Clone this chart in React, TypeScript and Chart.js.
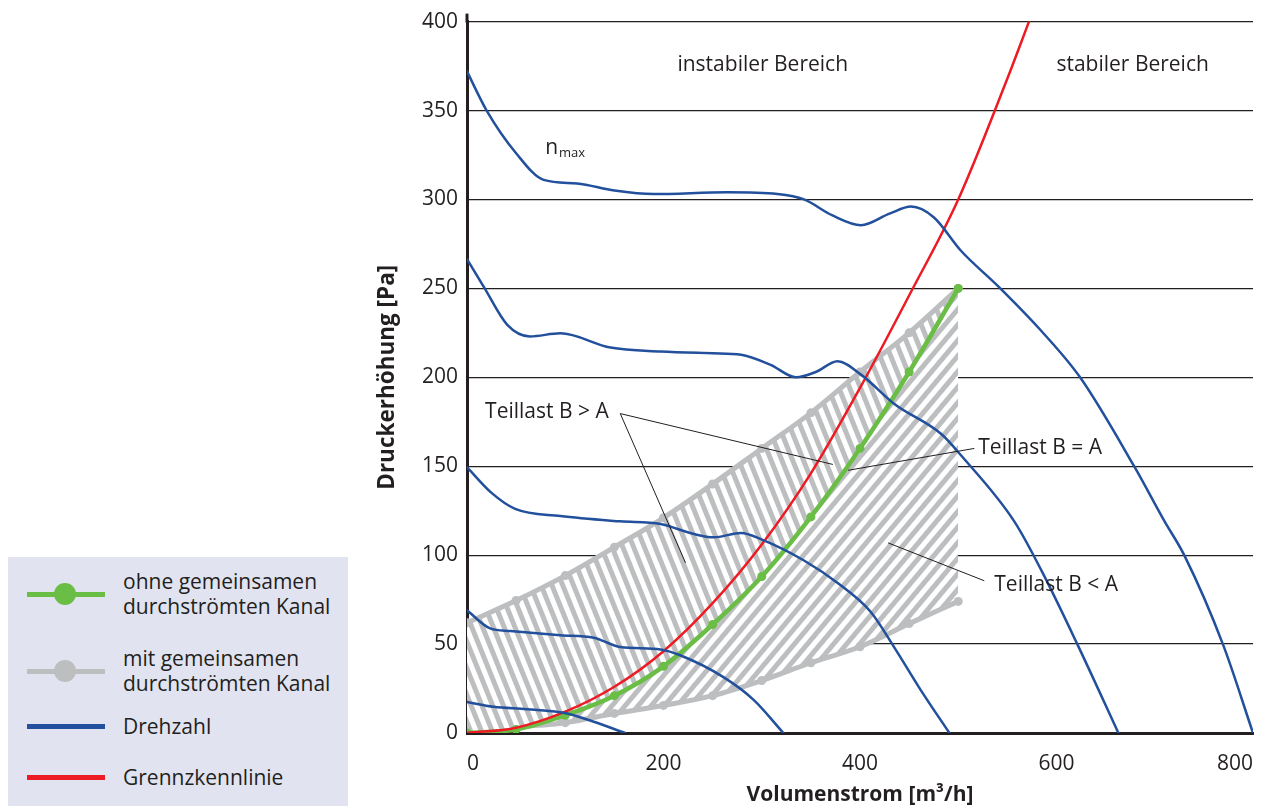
import React, { useEffect, useRef } from "react";
import { Chart, registerables } from "chart.js";

Chart.register(...registerables);

// ---------- data ----------
const sharedX = [0, 50, 100, 150, 200, 250, 300, 350, 400, 450, 500];
const greenY = [0, 2, 10, 21, 37.5, 61, 88, 121.5, 160, 203, 250];
const grayUpperY = [62, 74.5, 88.5, 104.5, 121, 140, 160, 180, 203, 225, 250];
const grayLowerY = [0.7, 3.4, 5.8, 11, 15.5, 21, 29.5, 39.5, 48.5, 61.5, 74];

const redX = [0, 50, 100, 150, 200, 250, 300, 350, 400, 450, 500, 550, 572];
const redY = [0, 3, 12, 26, 46, 73, 106, 146, 194, 246, 300, 368, 400];

const blue1X = [0, 20, 50, 78, 112, 150, 190, 265, 316, 343, 372, 401, 430, 452, 475, 503, 541, 583, 624, 679, 710, 730, 770, 800];
const blue1Y = [372, 350, 326, 311, 309, 305, 303, 304, 303, 300, 291, 285.5, 292, 296, 290, 271, 251, 227, 200, 150, 119, 100, 49, 0];
const blue2X = [0, 18, 41, 64, 95, 146, 197, 250, 279, 309, 335, 355, 377, 401, 435, 483, 503, 557, 585, 622, 663];
const blue2Y = [266.5, 250, 229.5, 223, 224.7, 216.7, 214.5, 213.5, 212.7, 207, 200, 203, 209, 201.5, 185, 168, 156, 119, 91, 49, 0];
const blue3X = [0, 25, 49, 95, 156, 197, 230, 251, 279, 299, 343, 378, 411, 435, 462, 491];
const blue3Y = [149.5, 135, 126, 122, 119, 117.5, 112, 110, 112.5, 109, 97, 84, 68, 48, 24, 0];
const blue4X = [0, 23.5, 44, 95, 129, 156, 197, 217, 261, 292, 322];
const blue4Y = [69, 58.8, 57.3, 55, 53.6, 48.3, 47, 43.7, 31.4, 18.5, 0];
const blue5X = [0, 27, 61, 102, 129, 161];
const blue5Y = [17.4, 14.7, 13.4, 11, 6.3, 0];

const xTicksStep = 200;
const yTicksStep = 50;

const labelTexts = [
  { text: "instabiler Bereich", x: 301, y: 375.4, align: "center" },
  { text: "stabiler Bereich", x: 677.5, y: 375.4, align: "center" },
  { text: "Teillast B > A", x: 18.4, y: 180.7, align: "left" },
  { text: "Teillast B = A", x: 520.4, y: 160, align: "left" },
  { text: "Teillast B < A", x: 536.7, y: 83.4, align: "left" },
];
const leaderLines = [
  [156, 179.6, 372.4, 151],
  [156, 179.6, 222.4, 95.7],
  [516.3, 160, 387.8, 147.7],
  [526.5, 85.6, 428.6, 106.9],
];
const nMaxPos = { x: 79.6, y: 329 };

// ---------- styles ----------
const GREEN = "#6abd45";
const GRAY = "#bcbec0";
const BLUE = "#22509c";
const RED = "#ed1c24";
const INK = "#231f20";
const FONT = "'Open Sans', sans-serif";

const pts = (xs: number[], ys: number[]) => xs.map((x, i) => ({ x, y: ys[i] }));

function stripePattern(ctx: CanvasRenderingContext2D, angle: number, period: number, bar: number) {
  const c = document.createElement("canvas");
  c.width = period;
  c.height = period;
  const g = c.getContext("2d")!;
  g.fillStyle = "#ffffff";
  g.fillRect(0, 0, period, period);
  g.fillStyle = GRAY;
  g.fillRect(0, 0, bar, period);
  const p = ctx.createPattern(c, "repeat")!;
  p.setTransform(new DOMMatrix().rotateSelf(angle));
  return p;
}

const annotationPlugin = {
  id: "annotations",
  afterDatasetsDraw(chart: any) {
    const { ctx, scales, chartArea } = chart;
    const xs = scales.x;
    const ys = scales.y;
    ctx.save();
    // small extension of the y axis line above the top gridline
    ctx.strokeStyle = INK;
    ctx.lineWidth = 3;
    ctx.beginPath();
    ctx.moveTo(chartArea.left, chartArea.top + 1);
    ctx.lineTo(chartArea.left, chartArea.top - 8);
    ctx.stroke();

    ctx.lineWidth = 1;
    leaderLines.forEach(([x1, y1, x2, y2]) => {
      ctx.beginPath();
      ctx.moveTo(xs.getPixelForValue(x1), ys.getPixelForValue(y1));
      ctx.lineTo(xs.getPixelForValue(x2), ys.getPixelForValue(y2));
      ctx.stroke();
    });
    ctx.fillStyle = INK;
    ctx.font = `21px ${FONT}`;
    ctx.textBaseline = "middle";
    labelTexts.forEach((l) => {
      ctx.textAlign = l.align;
      ctx.fillText(l.text, xs.getPixelForValue(l.x), ys.getPixelForValue(l.y));
    });
    const nx = xs.getPixelForValue(nMaxPos.x);
    const ny = ys.getPixelForValue(nMaxPos.y);
    ctx.textAlign = "left";
    ctx.font = `21px ${FONT}`;
    ctx.fillText("n", nx, ny);
    const w = ctx.measureText("n").width;
    ctx.font = `13px ${FONT}`;
    ctx.fillText("max", nx + w + 1, ny + 5);
    ctx.restore();
  },
};

function LegendItem({ top, color, marker, lines }: { top: number; color: string; marker: boolean; lines: string[] }) {
  return (
    <>
      <div style={{ position: "absolute", left: 19, top: top - 2.5, width: 78, height: 5, background: color }} />
      {marker && (
        <div
          style={{ position: "absolute", left: 57 - 11, top: top - 11, width: 22, height: 22, borderRadius: 11, background: color }}
        />
      )}
      <div
        style={{
          position: "absolute",
          left: 115,
          top: top - (lines.length * 25) / 2,
          fontFamily: FONT,
          fontSize: 21,
          lineHeight: "25px",
          color: INK,
          whiteSpace: "nowrap",
        }}
      >
        {lines.map((t, i) => (
          <div key={i}>{t}</div>
        ))}
      </div>
    </>
  );
}

export default function App() {
  const ref = useRef<HTMLCanvasElement>(null);
  useEffect(() => {
    const canvas = ref.current!;
    const ctx = canvas.getContext("2d")!;
    const upperPattern = stripePattern(ctx, -22, 10, 5);
    const lowerPattern = stripePattern(ctx, 40, 10, 5);
    const blueSets = [
      [blue1X, blue1Y],
      [blue2X, blue2Y],
      [blue3X, blue3Y],
      [blue4X, blue4Y],
      [blue5X, blue5Y],
    ].map(([xs, ys]) => ({
      data: pts(xs, ys),
      borderColor: BLUE,
      borderWidth: 2.5,
      pointRadius: 0,
      cubicInterpolationMode: "monotone",
      fill: false,
      order: 0,
    }));
    const chart = new Chart(canvas, {
      type: "line",
      data: {
        datasets: [
          {
            data: pts(sharedX, greenY),
            borderColor: GREEN,
            backgroundColor: GREEN,
            pointBackgroundColor: GREEN,
            pointBorderWidth: 0,
            borderWidth: 4.5,
            pointRadius: 4.5,
            cubicInterpolationMode: "monotone",
            fill: false,
            order: 2,
          },
          {
            data: pts(sharedX, grayUpperY),
            borderColor: GRAY,
            backgroundColor: upperPattern,
            pointBackgroundColor: GRAY,
            pointBorderWidth: 0,
            borderWidth: 5,
            pointRadius: 4.5,
            cubicInterpolationMode: "monotone",
            fill: "0",
            order: 3,
          },
          {
            data: pts(sharedX, grayLowerY),
            borderColor: GRAY,
            backgroundColor: lowerPattern,
            pointBackgroundColor: GRAY,
            pointBorderWidth: 0,
            borderWidth: 5,
            pointRadius: 4.5,
            cubicInterpolationMode: "monotone",
            fill: "0",
            order: 3,
          },
          {
            data: pts(redX, redY),
            borderColor: RED,
            borderWidth: 2.5,
            pointRadius: 0,
            cubicInterpolationMode: "monotone",
            fill: false,
            order: 1,
          },
          ...blueSets,
        ] as any,
      },
      options: {
        responsive: false,
        maintainAspectRatio: false,
        animation: false,
        devicePixelRatio: 1,
        layout: { padding: { left: 370, top: 18, right: 18, bottom: 0 } },
        plugins: {
          legend: { display: false },
          tooltip: { enabled: false },
        },
        elements: { line: { borderCapStyle: "round", borderJoinStyle: "round" } },
        scales: {
          x: {
            type: "linear",
            min: 0,
            max: 800,
            grid: { display: false },
            border: { display: true, color: INK, width: 3 },
            ticks: {
              stepSize: xTicksStep,
              align: "inner",
              padding: 10,
              color: INK,
              font: { family: FONT, size: 21 },
            },
            title: {
              display: true,
              text: "Volumenstrom [m³/h]",
              color: INK,
              font: { family: FONT, size: 21, weight: "bold" },
              padding: { top: 0, bottom: 0 },
            },
            afterFit: (s: any) => {
              s.height = 75;
            },
          },
          y: {
            type: "linear",
            min: 0,
            max: 400,
            grid: { display: true, color: INK, lineWidth: 1.2, drawTicks: false },
            border: { display: true, color: INK, width: 3 },
            ticks: {
              stepSize: yTicksStep,
              padding: 9,
              color: INK,
              font: { family: FONT, size: 21 },
            },
            title: {
              display: true,
              text: "Druckerhöhung [Pa]",
              color: INK,
              font: { family: FONT, size: 22.5, weight: "bold" },
              padding: { top: 4, bottom: 0 },
            },
            afterFit: (s: any) => {
              s.width = 97;
            },
          },
        },
      } as any,
      plugins: [annotationPlugin],
    });
    return () => chart.destroy();
  }, []);

  return (
    <div style={{ position: "fixed", left: 0, top: 0, width: 1271, height: 808, background: "#fff" }}>
      <canvas ref={ref} width={1271} height={808} style={{ position: "absolute", left: 0, top: 0 }} />
      <div style={{ position: "absolute", left: 8, top: 557, width: 340, height: 249, background: "#e1e4f0" }}>
        <LegendItem top={37} color={GREEN} marker={true} lines={["ohne gemeinsamen", "durchströmten Kanal"]} />
        <LegendItem top={114} color={GRAY} marker={true} lines={["mit gemeinsamen", "durchströmten Kanal"]} />
        <LegendItem top={169} color={BLUE} marker={false} lines={["Drehzahl"]} />
        <LegendItem top={220} color={RED} marker={false} lines={["Grennzkennlinie"]} />
      </div>
    </div>
  );
}
